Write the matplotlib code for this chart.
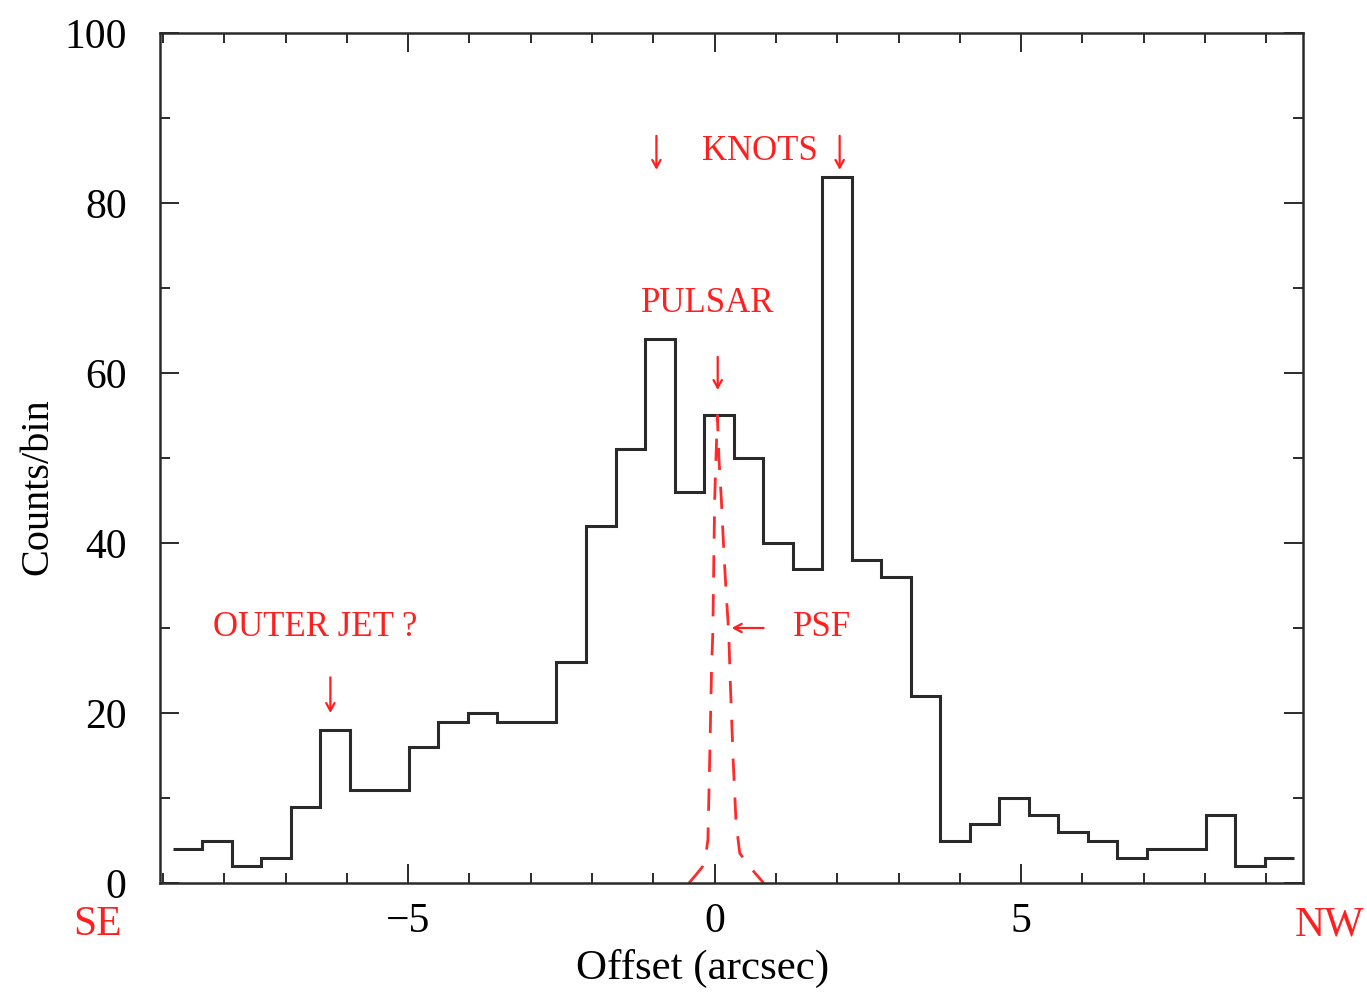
import matplotlib
matplotlib.use("Agg")
import matplotlib.pyplot as plt
import numpy as np
from matplotlib.ticker import MultipleLocator

# Binned counts along the jet axis (SE -> NW), uniform bins
bin_start = -8.84      # arcsec, left edge of first bin
bin_width = 0.4815     # arcsec
counts = [4, 5, 2, 3, 9, 18, 11, 11, 16, 19, 20, 19, 19, 26, 42, 51, 64, 46, 55,
          50, 40, 37, 83, 38, 36, 22, 5, 7, 10, 8, 6, 5, 3, 4, 4, 8, 2, 3]

# Point-spread function profile scaled to the pulsar bin
psf_x = [-0.42, -0.30, -0.20, -0.15, -0.11, -0.08, -0.05, -0.03, 0.00, 0.044,
         0.07, 0.11, 0.15, 0.185, 0.23, 0.25, 0.30, 0.35, 0.41, 0.50, 0.62, 0.80]
psf_y = [0.0, 1.0, 1.9, 3.0, 5.1, 14.8, 25.4, 29.4, 45.0, 55.0,
         50.0, 45.0, 39.0, 34.5, 29.4, 24.7, 14.8, 7.0, 3.5, 2.6, 1.5, 0.0]

# Text labels: (text, x, y)
labels = [
    ("OUTER JET ?", -6.52, 30.0),
    ("PULSAR", -0.11, 68.2),
    ("KNOTS", 0.74, 86.0),
    ("PSF", 1.76, 30.0),
]

# Pointer arrows: (tail x, tail y, tip x, tip y)
pointers = [
    (-6.27, 24.2, -6.27, 20.0),
    (0.05, 61.9, 0.05, 58.0),
    (-0.95, 87.9, -0.95, 83.9),
    (2.04, 87.9, 2.04, 83.9),
    (0.80, 30.0, 0.28, 30.0),
]

x_ticks = [-5, 0, 5]
y_ticks = [0, 20, 40, 60, 80, 100]

serif = ["Liberation Serif", "DejaVu Serif"]
plt.rcParams["font.family"] = serif
plt.rcParams["mathtext.fontset"] = "stix"

W, H = 1367, 994
fig = plt.figure(figsize=(W / 100, H / 100), dpi=100)
ax = fig.add_axes([160 / W, (H - 883) / H, 1143 / W, 850 / H])

edges = bin_start + bin_width * np.arange(len(counts) + 1)
ax.stairs(counts, edges, baseline=None, color="#2a2a2a", lw=2.2)

ax.plot(psf_x, psf_y, color="#ff2a2a", lw=2.0, dashes=(8, 6), clip_on=True)

red = "#ff1f1f"
for txt, x, y in labels:
    ax.text(x, y, txt, color=red, fontsize=25, ha="center", va="center",
            family=serif)

for x0, y0, x1, y1 in pointers:
    ax.annotate("", xy=(x1, y1), xytext=(x0, y0),
                arrowprops=dict(arrowstyle="->,head_length=0.55,head_width=0.3",
                                color=red, lw=1.6, shrinkA=0, shrinkB=0))

ax.set_xlim(-9.05, 9.6)
ax.set_ylim(0, 100)
ax.set_xticks(x_ticks)
ax.set_xticklabels(["\u22125", "0", "5"])
ax.set_yticks(y_ticks)
ax.xaxis.set_minor_locator(MultipleLocator(1))
ax.yaxis.set_minor_locator(MultipleLocator(10))

edge_col = "#2a2a2a"
for s in ax.spines.values():
    s.set_linewidth(1.8)
    s.set_color(edge_col)
ax.tick_params(which="both", direction="in", top=True, right=True,
               color=edge_col, width=1.4)
ax.tick_params(which="major", length=14)
ax.tick_params(which="minor", length=7)
ax.tick_params(axis="x", which="major", pad=14, labelsize=30)
ax.tick_params(axis="y", which="major", pad=24, labelsize=30)

ax.set_xlabel("Offset (arcsec)", fontsize=31)
ax.set_ylabel("Counts/bin", fontsize=29)
# place axis titles in figure pixel coordinates
ax.xaxis.set_label_coords(703 / W, 1 - 968 / H, transform=fig.transFigure)
ax.xaxis.label.set_va("center")
ax.yaxis.set_label_coords(38 / W, 1 - 487 / H, transform=fig.transFigure)
ax.yaxis.label.set_va("center")

fig.text(98 / W, 1 - 925 / H, "SE", color=red, fontsize=30,
         ha="center", va="center")
fig.text(1330 / W, 1 - 925 / H, "NW", color=red, fontsize=30,
         ha="center", va="center")

fig.savefig("out.png", dpi=100, facecolor="white")
